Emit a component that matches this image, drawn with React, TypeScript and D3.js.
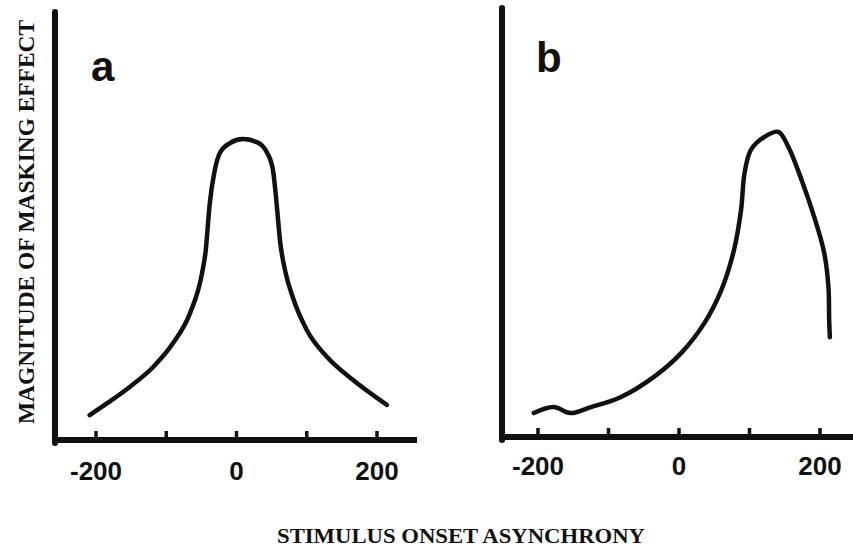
import React from "react";
import * as d3 from "d3";

// Stimulus onset asynchrony (ms) and magnitude of masking effect (arbitrary 0-100)
const socA = [-209, -184, -152, -119, -90, -66, -49, -44, -38, -31, -23, -9, 9, 29, 43, 52, 57, 62, 70, 80, 100, 129, 166, 214];
const magA = [5.8, 8.6, 12.4, 17, 22.7, 29.7, 39, 44, 55.4, 63, 67.3, 69.4, 70.3, 69.6, 67.3, 63, 55.4, 46.5, 39, 33.4, 25.7, 19.4, 14, 8.2];

const socB = [-206, -178, -154, -125, -83, -36, 3, 36, 60, 78, 88, 93, 102, 121, 141, 155, 174, 192, 206, 212, 213, 214];
const magB = [6.3, 7.7, 6.3, 7.7, 10, 14.7, 20.3, 27.3, 35, 44.4, 53.7, 62.4, 67.8, 70.8, 72, 68.5, 60.7, 52, 43.7, 35.7, 28, 24];

const tickValues = [-200, -100, 0, 100, 200];
const tickLabels = [-200, 0, 200];
const panelLetters = ["a", "b"];
const yTitle = "MAGNITUDE OF MASKING EFFECT";
const xTitle = "STIMULUS ONSET ASYNCHRONY";

type Panel = {
  letter: string;
  soc: number[];
  mag: number[];
  xRange: [number, number];
  axisX: number;
  axisY: number;
  axisTop: number;
  axisRight: number;
  labelBase: number;
  letterPos: [number, number];
  monotone: boolean;
};

const panels: Panel[] = [
  { letter: panelLetters[0], soc: socA, mag: magA, xRange: [96, 377], axisX: 55, axisY: 440, axisTop: 12, axisRight: 417, labelBase: 480, letterPos: [91, 81], monotone: true },
  { letter: panelLetters[1], soc: socB, mag: magB, xRange: [538, 820], axisX: 502, axisY: 437, axisTop: 8, axisRight: 853, labelBase: 475, letterPos: [536, 72], monotone: false },
];

const yScale = d3.scaleLinear().domain([0, 100]).range([440, 12]);

export default function App() {
  return (
    <svg
      width={853}
      height={560}
      style={{ position: "absolute", left: 0, top: 0, background: "#fff" }}
    >
      <rect x={0} y={0} width={853} height={560} fill="#fff" />
      {panels.map((p, i) => {
        const x = d3.scaleLinear().domain([-200, 200]).range(p.xRange);
        const pts: [number, number][] = p.soc.map((s, k) => [x(s), yScale(p.mag[k])]);
        const line =
          d3.line().curve(p.monotone ? d3.curveMonotoneX : d3.curveCatmullRom.alpha(0.5))(pts) || "";
        return (
          <g key={i}>
            {tickValues.map((t) => (
              <line key={t} x1={x(t)} x2={x(t)} y1={p.axisY} y2={p.axisY - 9} stroke="#111" strokeWidth={3.5} />
            ))}
            <line x1={p.axisX} x2={p.axisX} y1={p.axisTop} y2={p.axisY + 3} stroke="#111" strokeWidth={6} strokeLinecap="round" />
            <line x1={p.axisX - 2} x2={p.axisRight} y1={p.axisY} y2={p.axisY} stroke="#111" strokeWidth={6} />
            {tickLabels.map((t) => (
              <text
                key={t}
                x={x(t)}
                y={p.labelBase}
                textAnchor="middle"
                fontFamily="'Liberation Sans', Arial, sans-serif"
                fontWeight="bold"
                fontSize={26}
                fill="#111"
              >
                {t}
              </text>
            ))}
            <path d={line} fill="none" stroke="#111" strokeWidth={4.5} strokeLinecap="round" strokeLinejoin="round" />
            <text
              x={p.letterPos[0]}
              y={p.letterPos[1]}
              fontFamily="'Liberation Sans', Arial, sans-serif"
              fontWeight="bold"
              fontSize={42}
              fill="#111"
            >
              {p.letter}
            </text>
          </g>
        );
      })}
      <text
        transform="translate(34,424) rotate(-90)"
        x={0}
        y={0}
        textLength={404}
        lengthAdjust="spacingAndGlyphs"
        fontFamily="'Liberation Serif', 'Times New Roman', serif"
        fontWeight="bold"
        fontSize={24}
        fill="#111"
      >
        {yTitle}
      </text>
      <text
        x={277}
        y={543}
        textLength={368}
        lengthAdjust="spacingAndGlyphs"
        fontFamily="'Liberation Serif', 'Times New Roman', serif"
        fontWeight="bold"
        fontSize={22}
        fill="#111"
      >
        {xTitle}
      </text>
    </svg>
  );
}
